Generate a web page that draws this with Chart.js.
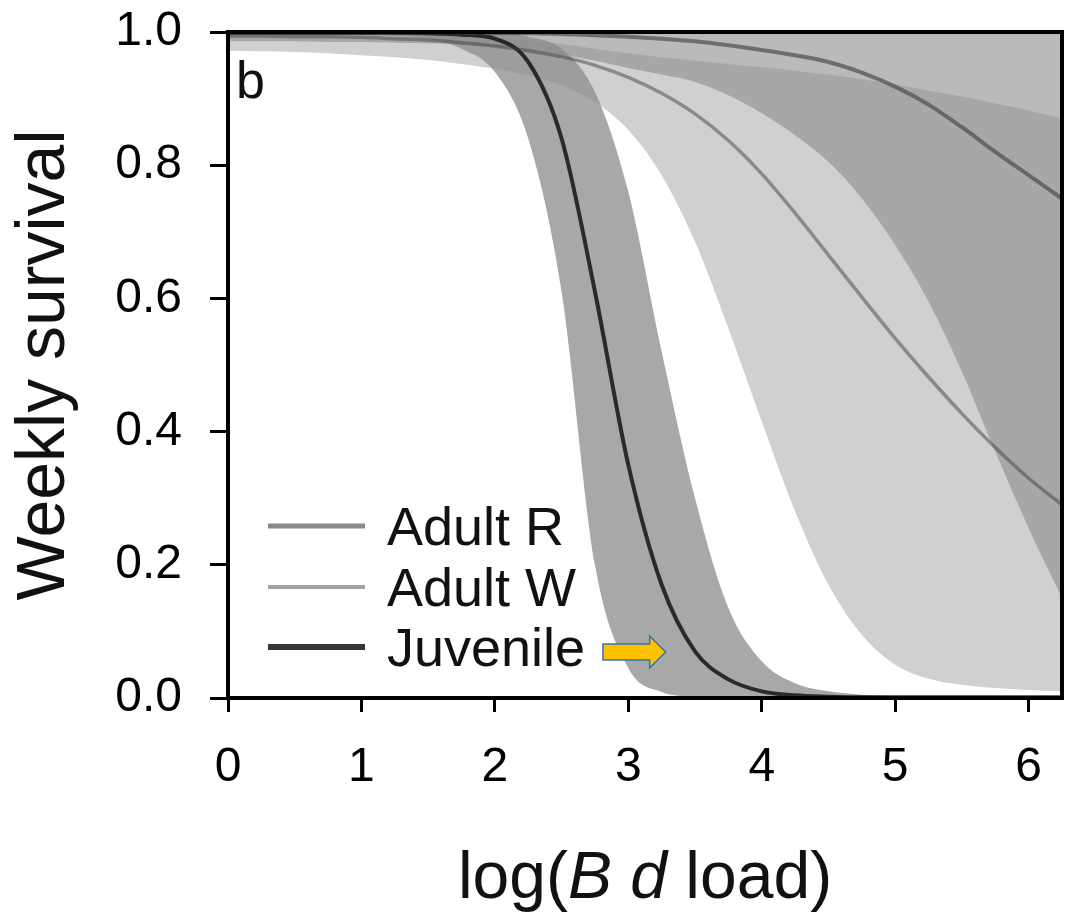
<!DOCTYPE html>
<html lang="en">
<head>
    <meta charset="UTF-8">
    <title>Weekly survival vs log(Bd load)</title>
    <script src="https://cdn.jsdelivr.net/npm/chart.js"></script>
    <style>
        html, body { margin: 0; padding: 0; background: #fff; }
        canvas { display: block; }
    </style>
</head>
<body>
    <canvas id="grafica" width="1070" height="915"></canvas>

    <script>
        const logLoad = [0, 0.25, 0.5, 0.75, 1, 1.25, 1.5, 1.75, 2, 2.25, 2.5, 2.75, 3,
                         3.25, 3.5, 3.75, 4, 4.25, 4.5, 4.75, 5, 5.25, 5.5, 5.75, 6, 6.25];

        // Adult R: fitted survival and its band
        const adultR     = [0.999, 0.999, 0.999, 0.999, 0.999, 0.999, 0.999, 0.999, 0.998, 0.998, 0.997, 0.995, 0.993,
                            0.99, 0.986, 0.98, 0.973, 0.965, 0.955, 0.939, 0.918, 0.891, 0.857, 0.82, 0.785, 0.75];
        const adultRLow  = [0.986, 0.986, 0.986, 0.985, 0.985, 0.984, 0.983, 0.981, 0.978, 0.973, 0.966, 0.957, 0.946,
                            0.936, 0.925, 0.905, 0.878, 0.845, 0.805, 0.75, 0.68, 0.595, 0.49, 0.37, 0.255, 0.15];
        const adultRHigh = [1, 1, 1, 1, 1, 1, 1, 1, 1, 1, 1, 1, 1,
                            1, 1, 1, 1, 1, 1, 1, 1, 1, 1, 1, 1, 1];

        // Adult W
        const adultW     = [0.994, 0.994, 0.993, 0.993, 0.992, 0.99, 0.988, 0.984, 0.979, 0.972, 0.963, 0.95, 0.932,
                            0.908, 0.877, 0.837, 0.787, 0.728, 0.665, 0.602, 0.54, 0.482, 0.427, 0.376, 0.33, 0.29];
        const adultWLow  = [0.972, 0.971, 0.97, 0.968, 0.965, 0.962, 0.958, 0.952, 0.945, 0.935, 0.92, 0.895, 0.853,
                            0.785, 0.685, 0.555, 0.415, 0.28, 0.17, 0.095, 0.05, 0.029, 0.02, 0.015, 0.012, 0.01];
        const adultWHigh = [0.999, 0.999, 0.998, 0.998, 0.998, 0.997, 0.997, 0.995, 0.992, 0.988, 0.982, 0.975, 0.968,
                            0.962, 0.957, 0.952, 0.947, 0.942, 0.936, 0.929, 0.921, 0.912, 0.903, 0.893, 0.882, 0.87];

        // Juvenile
        const juvenile     = [0.999, 0.999, 0.999, 0.999, 0.999, 0.999, 0.998, 0.996, 0.99, 0.955, 0.84, 0.61, 0.35,
                              0.17, 0.07, 0.028, 0.01, 0.004, 0.002, 0.001, 0.001, 0.001, 0.001, 0.001, 0.001, 0.001];
        const juvenileLow  = [0.995, 0.995, 0.995, 0.995, 0.995, 0.994, 0.99, 0.975, 0.94, 0.84, 0.61, 0.2, 0.045,
                              0.009, 0.002, 0, 0, 0, 0, 0, 0, 0, 0, 0, 0, 0];
        const juvenileHigh = [1, 1, 1, 1, 1, 1, 1, 1, 1, 0.993, 0.975, 0.91, 0.76,
                              0.52, 0.3, 0.135, 0.055, 0.022, 0.01, 0.005, 0.003, 0.002, 0.001, 0.001, 0.001, 0.001];

        const xTicks = [0, 1, 2, 3, 4, 5, 6];

        // yellow arrow pointing at the juvenile curve (data units)
        const arrowFromX = 2.81, arrowToX = 3.28, arrowY = 0.069;

        const FONT = '"Liberation Sans", Arial, Helvetica, sans-serif';

        const pts = ys => ys.map((y, i) => ({ x: logLoad[i], y: y }));

        function band(ys, color) {
            return {
                data: pts(ys),
                fill: '+1',
                backgroundColor: color,
                borderColor: 'rgba(0,0,0,0)',
                borderWidth: 0,
                pointRadius: 0,
                cubicInterpolationMode: 'monotone'
            };
        }
        function edge(ys) {
            return {
                data: pts(ys),
                fill: false,
                borderColor: 'rgba(0,0,0,0)',
                borderWidth: 0,
                pointRadius: 0,
                cubicInterpolationMode: 'monotone'
            };
        }
        function curve(label, ys, color, width, legendWidth) {
            return {
                label: label,
                data: pts(ys),
                fill: false,
                borderColor: color,
                borderWidth: width,
                legendWidth: legendWidth,
                pointRadius: 0,
                cubicInterpolationMode: 'monotone'
            };
        }

        // frame, titles, legend, panel letter and the arrow
        const extras = {
            id: 'extras',
            afterDraw(chart) {
                const c = chart.ctx;
                const a = chart.chartArea;
                const sx = chart.scales.x, sy = chart.scales.y;
                c.save();

                c.strokeStyle = '#000';
                c.lineWidth = 4;
                c.strokeRect(a.left, a.top, a.right - a.left, a.bottom - a.top);

                c.fillStyle = '#111';
                c.font = '52px ' + FONT;
                c.textAlign = 'left';
                c.textBaseline = 'alphabetic';
                c.fillText('b', a.left + 8, a.top + 66);

                // legend
                const rows = chart.data.datasets.filter(d => d.label);
                const offsets = [153, 92, 32];
                rows.forEach((d, i) => {
                    const base = a.bottom - offsets[i];
                    c.strokeStyle = d.borderColor;
                    c.lineWidth = d.legendWidth;
                    c.beginPath();
                    c.moveTo(a.left + 40, base - 19);
                    c.lineTo(a.left + 137, base - 19);
                    c.stroke();
                    c.fillStyle = '#111';
                    c.font = '54px ' + FONT;
                    c.fillText(d.label, a.left + 159, base);
                });

                // arrow
                const x0 = sx.getPixelForValue(arrowFromX);
                const x1 = sx.getPixelForValue(arrowToX);
                const y0 = sy.getPixelForValue(arrowY);
                c.beginPath();
                c.moveTo(x0, y0 - 8);
                c.lineTo(x1 - 16, y0 - 8);
                c.lineTo(x1 - 16, y0 - 16);
                c.lineTo(x1, y0);
                c.lineTo(x1 - 16, y0 + 16);
                c.lineTo(x1 - 16, y0 + 8);
                c.lineTo(x0, y0 + 8);
                c.closePath();
                c.fillStyle = '#ffc000';
                c.fill();
                c.strokeStyle = '#2e75b6';
                c.lineWidth = 1.5;
                c.stroke();

                // y title
                c.fillStyle = '#111';
                c.font = '68px ' + FONT;
                c.save();
                c.translate(64, (a.top + a.bottom) / 2);
                c.rotate(-Math.PI / 2);
                c.textAlign = 'center';
                c.textBaseline = 'alphabetic';
                c.fillText('Weekly survival', 0, 0);
                c.restore();

                // x title with italic Bd
                const parts = [
                    { t: 'log(', f: '66px ' + FONT },
                    { t: 'B d', f: 'italic 66px ' + FONT },
                    { t: ' load)', f: '66px ' + FONT }
                ];
                let total = 0;
                parts.forEach(p => { c.font = p.f; p.w = c.measureText(p.t).width; total += p.w; });
                let x = (a.left + a.right) / 2 - total / 2;
                c.textAlign = 'left';
                parts.forEach(p => { c.font = p.f; c.fillText(p.t, x, 898); x += p.w; });

                c.restore();
            }
        };

        const ctx = document.getElementById('grafica').getContext('2d');
        new Chart(ctx, {
            type: 'line',
            data: {
                datasets: [
                    band(adultRHigh, 'rgba(140,140,140,0.6)'),
                    edge(adultRLow),
                    band(adultWHigh, 'rgba(140,140,140,0.41)'),
                    edge(adultWLow),
                    band(juvenileHigh, 'rgba(140,140,140,0.76)'),
                    edge(juvenileLow),
                    curve('Adult R', adultR, 'rgba(60,60,60,0.6)', 4, 5),
                    curve('Adult W', adultW, 'rgba(60,60,60,0.48)', 3.5, 4),
                    curve('Juvenile', juvenile, 'rgba(20,20,20,0.85)', 4, 6)
                ]
            },
            options: {
                responsive: false,
                animation: false,
                layout: { padding: { top: 32, right: 8, left: 0, bottom: 0 } },
                plugins: {
                    legend: { display: false },
                    tooltip: { enabled: false },
                    filler: { propagate: false, drawTime: 'beforeDatasetsDraw' }
                },
                scales: {
                    x: {
                        type: 'linear',
                        min: 0,
                        max: 6.25,
                        afterBuildTicks: s => { s.ticks = xTicks.map(v => ({ value: v })); },
                        afterFit: s => { s.height = 217; s.paddingLeft = 0; s.paddingRight = 0; },
                        border: { display: false },
                        grid: { drawOnChartArea: false, drawTicks: true, tickLength: 14, tickWidth: 3, tickColor: '#000' },
                        ticks: { color: '#000', padding: 27, font: { family: FONT, size: 48 } }
                    },
                    y: {
                        min: 0,
                        max: 1,
                        afterFit: s => { s.width = 228; s.paddingTop = 0; s.paddingBottom = 0; },
                        border: { display: false },
                        grid: { drawOnChartArea: false, drawTicks: true, tickLength: 18, tickWidth: 3, tickColor: '#000' },
                        ticks: {
                            stepSize: 0.2,
                            color: '#000',
                            padding: 28,
                            font: { family: FONT, size: 48 },
                            callback: v => v.toFixed(1)
                        }
                    }
                }
            },
            plugins: [extras]
        });
    </script>
</body>
</html>
